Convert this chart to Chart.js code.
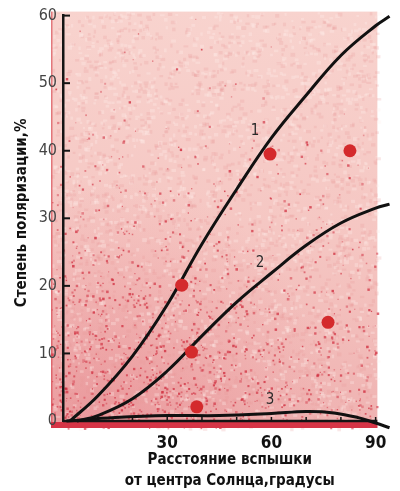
<!DOCTYPE html>
<html>
<head>
<meta charset="utf-8">
<script src="https://cdn.jsdelivr.net/npm/chart.js@4"></script>
<style>
  html, body { margin: 0; padding: 0; background: #fff; }
  #chart { display: block; }
</style>
</head>
<body>
<canvas id="chart" width="400" height="491"></canvas>
<script>
// curve 1
var curve1X = [2, 10, 20, 30, 40, 50, 60, 70, 80, 90, 94];
var curve1Y = [0, 3.7, 9.6, 17.2, 26.2, 34.3, 41.9, 48.2, 54.1, 58.5, 59.9];
// curve 2
var curve2X = [4, 10, 20, 30, 40, 50, 60, 70, 80, 90, 94];
var curve2Y = [0, 0.8, 3.3, 7.4, 12.6, 17.6, 21.9, 26.0, 29.3, 31.5, 32.1];
// curve 3
var curve3X = [1, 15, 30, 45, 60, 70, 78, 85, 90, 94];
var curve3Y = [0, 0.5, 0.8, 0.8, 1.1, 1.4, 1.2, 0.5, -0.3, -1.0];
// observed flares
var dotX = [34.2, 37.0, 38.5, 59.6, 82.6, 76.3];
var dotY = [20.1, 10.2, 2.1, 39.5, 40.0, 14.6];
// curve numbers
var curveNames = ['1', '2', '3'];
var nameX = [55.3, 56.7, 59.6];
var nameY = [42.9, 23.4, 3.1];

var xTicks = [30, 60, 90];
var yTitle = 'Степень поляризации,%';
var xTitle = ['Расстояние вспышки', 'от центра Солнца,градусы'];

var FONT = "'DejaVu Sans Condensed', 'Liberation Sans Narrow', 'DejaVu Sans', sans-serif";

function toPoints(xs, ys) {
  return xs.map(function (x, i) { return { x: x, y: ys[i] }; });
}

// small deterministic generator for the paper grain
function mulberry32(a) {
  return function () {
    a |= 0; a = a + 0x6D2B79F5 | 0;
    var t = Math.imul(a ^ a >>> 15, 1 | a);
    t = t + Math.imul(t ^ t >>> 7, 61 | t) ^ t;
    return ((t ^ t >>> 14) >>> 0) / 4294967296;
  };
}

// pink printed backdrop behind the plot
var paperPlugin = {
  id: 'paper',
  beforeDraw: function (chart) {
    var ctx = chart.ctx, xs = chart.scales.x, ys = chart.scales.y;
    var left = xs.left - 12, right = xs.getPixelForValue(90.5);
    var top = ys.top - 4, bottom = ys.bottom + 7;
    var w = right - left, h = bottom - top;
    ctx.save();
    var g = ctx.createLinearGradient(0, top, 0, bottom);
    g.addColorStop(0, '#f8d3ce');
    g.addColorStop(0.55, '#f5c6c2');
    g.addColorStop(1, '#efb2b1');
    ctx.fillStyle = g;
    ctx.fillRect(left, top, w, h);

    var rg = ctx.createRadialGradient(left + 50, bottom - 20, 10, left + 50, bottom - 20, 230);
    rg.addColorStop(0, 'rgba(220,80,95,0.25)');
    rg.addColorStop(1, 'rgba(220,80,95,0)');
    ctx.fillStyle = rg;
    ctx.fillRect(left, top, w, h);

    var rnd = mulberry32(11);
    // soft mottling over the whole sheet
    for (var k = 0; k < 3500; k++) {
      var mx = left + rnd() * w, my = top + rnd() * h;
      ctx.fillStyle = rnd() < 0.5 ? 'rgba(232,150,148,0.22)' : 'rgba(255,238,235,0.3)';
      ctx.fillRect(mx, my, 2 + rnd() * 3, 2 + rnd() * 2);
    }
    // red ink specks, thicker towards the lower left
    for (var i = 0; i < 9000; i++) {
      var px = left + rnd() * w, py = top + rnd() * h;
      var fy = (py - top) / h, fx = (px - left) / w;
      var wt = Math.pow(fy, 2.2) * (1 - 0.55 * fx);
      if (rnd() < wt * 0.6 + 0.006) {
        var s = 1 + rnd() * 1.6;
        ctx.fillStyle = 'rgba(208,45,62,' + (0.35 + rnd() * 0.45).toFixed(2) + ')';
        ctx.fillRect(px, py, s, s);
      }
    }

    ctx.fillStyle = 'rgba(214,60,70,0.6)';
    ctx.fillRect(left, top, 1.5, h);
    ctx.fillStyle = '#d63446';
    ctx.fillRect(left, ys.bottom + 1, w, 6);
    ctx.restore();
  },
  beforeDatasetsDraw: function (chart) {
    var ctx = chart.ctx, xs = chart.scales.x, ys = chart.scales.y;
    ctx.save();
    ctx.strokeStyle = '#141414';
    ctx.lineWidth = 2;
    for (var v = 10; v <= 60; v += 10) {
      var y = ys.getPixelForValue(v);
      ctx.beginPath();
      ctx.moveTo(xs.left, y);
      ctx.lineTo(xs.left + 7, y);
      ctx.stroke();
    }
    ctx.lineWidth = 1.5;
    for (var u = 10; u <= 90; u += 10) {
      var x = xs.getPixelForValue(u);
      ctx.beginPath();
      ctx.moveTo(x, ys.bottom);
      ctx.lineTo(x, ys.bottom - 4);
      ctx.stroke();
    }
    ctx.lineWidth = 2.5;
    ctx.beginPath();
    ctx.moveTo(xs.left, ys.bottom);
    ctx.lineTo(xs.getPixelForValue(90.5), ys.bottom);
    ctx.stroke();
    ctx.restore();
  },
  afterDatasetsDraw: function (chart) {
    var ctx = chart.ctx, xs = chart.scales.x, ys = chart.scales.y;
    ctx.save();
    ctx.fillStyle = '#2a2a2a';
    ctx.font = '15px ' + FONT;
    ctx.textAlign = 'center';
    ctx.textBaseline = 'middle';
    for (var i = 0; i < curveNames.length; i++) {
      ctx.fillText(curveNames[i], xs.getPixelForValue(nameX[i]), ys.getPixelForValue(nameY[i]));
    }
    ctx.restore();
  },
  afterDraw: function (chart) {
    var ctx = chart.ctx, xs = chart.scales.x, ys = chart.scales.y;
    ctx.save();
    ctx.fillStyle = '#111';
    ctx.font = 'bold 15px ' + FONT;
    ctx.textAlign = 'center';
    ctx.textBaseline = 'middle';
    var cx = xs.getPixelForValue(48);
    ctx.fillText(xTitle[0], cx, ys.bottom + 39);
    ctx.fillText(xTitle[1], cx, ys.bottom + 60);
    ctx.translate(22, ys.getPixelForValue(30.8));
    ctx.rotate(-Math.PI / 2);
    ctx.fillText(yTitle, 0, 0);
    ctx.restore();
  }
};

function curveSet(xs, ys) {
  return {
    type: 'line',
    data: toPoints(xs, ys),
    borderColor: '#111',
    borderWidth: 3,
    pointRadius: 0,
    fill: false,
    tension: 0.4,
    clip: false
  };
}

var ctx = document.getElementById('chart').getContext('2d');
var chart = new Chart(ctx, {
  type: 'line',
  data: {
    datasets: [
      {
        type: 'scatter',
        data: toPoints(dotX, dotY),
        pointRadius: 6.5,
        pointBackgroundColor: '#d42a2c',
        pointBorderWidth: 0,
        showLine: false
      },
      curveSet(curve1X, curve1Y),
      curveSet(curve2X, curve2Y),
      curveSet(curve3X, curve3Y)
    ]
  },
  options: {
    responsive: false,
    animation: false,
    layout: { padding: { top: 14, right: 7, left: 0, bottom: 0 } },
    plugins: { legend: { display: false }, tooltip: { enabled: false } },
    scales: {
      x: {
        type: 'linear',
        min: 0,
        max: 95,
        afterBuildTicks: function (s) { s.ticks = xTicks.map(function (v) { return { value: v }; }); },
        afterFit: function (s) { s.height = 70; },
        grid: { display: false, drawTicks: false },
        border: { display: false },
        ticks: { padding: 12, color: '#111', font: { family: FONT, size: 17, weight: 'bold' } }
      },
      y: {
        min: 0,
        max: 60,
        afterFit: function (s) { s.width = 63; },
        grid: { display: false, drawTicks: false },
        border: { display: true, color: '#141414', width: 2.5 },
        ticks: { stepSize: 10, padding: 6, color: '#444', font: { family: FONT, size: 16 } }
      }
    }
  },
  plugins: [paperPlugin]
});
</script>
</body>
</html>
